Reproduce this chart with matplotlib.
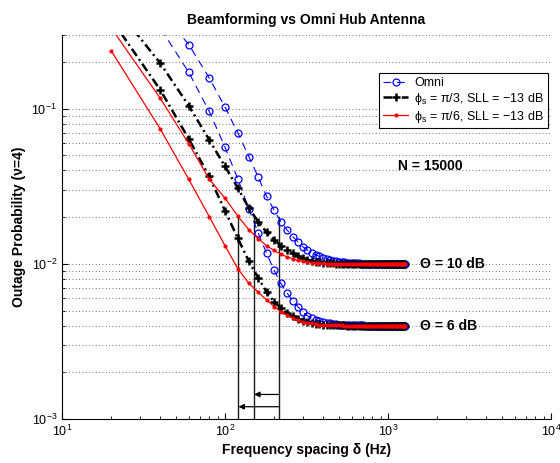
import matplotlib
matplotlib.use("Agg")
import matplotlib.pyplot as plt
from matplotlib.ticker import LogLocator, NullFormatter

plt.rcParams['font.family'] = ['Liberation Sans', 'DejaVu Sans']
plt.rcParams['mathtext.fontset'] = 'custom'
plt.rcParams['mathtext.rm'] = 'Liberation Sans'
plt.rcParams['mathtext.it'] = 'Liberation Sans:italic'
plt.rcParams['mathtext.bf'] = 'Liberation Sans:bold'

# ---------------- data ----------------
delta = [20, 40, 60, 80, 100, 120, 140, 160,
         180, 200, 220, 240, 260, 280, 300, 320,
         340, 360, 380, 400, 420, 440, 460, 480,
         500, 520, 540, 560, 580, 600, 620, 640,
         660, 680, 700, 720, 740, 760, 780, 800,
         820, 840, 860, 880, 900, 920, 940, 960,
         980, 1000, 1020, 1040, 1060, 1080, 1100, 1120,
         1140, 1160, 1180, 1200, 1220, 1240, 1260, 1280]

omni_10 = [0.85, 0.43, 0.259, 0.158, 0.1026, 0.0697, 0.0492, 0.0362,
           0.0273, 0.0222, 0.0187, 0.01655, 0.0150, 0.0139, 0.0129, 0.0123,
           0.0118, 0.01145, 0.01117, 0.01095, 0.01077, 0.01062, 0.0105, 0.0104,
           0.01033, 0.01027, 0.01022, 0.01018, 0.01014, 0.01011, 0.01009, 0.01007,
           0.01006, 0.01005, 0.01004, 0.01003, 0.01003, 0.01002, 0.01002, 0.01001,
           0.01001, 0.01001, 0.01001, 0.0100, 0.0100, 0.0100, 0.0100, 0.0100,
           0.0100, 0.0100, 0.0100, 0.0100, 0.0100, 0.0100, 0.0100, 0.0100,
           0.0100, 0.0100, 0.0100, 0.0100, 0.0100, 0.0100, 0.0100, 0.0100]
omni_6 = [0.76, 0.333, 0.1714, 0.0962, 0.0566, 0.0352, 0.0226, 0.0158,
          0.0117, 0.0091, 0.0075, 0.0065, 0.0058, 0.0053, 0.0049, 0.00463,
          0.00447, 0.00436, 0.00428, 0.00422, 0.00417, 0.00413, 0.0041, 0.00408,
          0.00406, 0.00405, 0.00404, 0.00403, 0.00403, 0.00402, 0.00402, 0.00401,
          0.00401, 0.00401, 0.00401, 0.0040, 0.0040, 0.0040, 0.0040, 0.0040,
          0.0040, 0.0040, 0.0040, 0.0040, 0.0040, 0.0040, 0.0040, 0.0040,
          0.0040, 0.0040, 0.0040, 0.0040, 0.0040, 0.0040, 0.0040, 0.0040,
          0.0040, 0.0040, 0.0040, 0.0040, 0.0040, 0.0040, 0.0040, 0.0040]

bf3_10 = [0.49, 0.197, 0.1045, 0.0631, 0.0425, 0.0308, 0.0229, 0.0187,
          0.0160, 0.0143, 0.0131, 0.0123, 0.0117, 0.01125, 0.0109, 0.01066,
          0.01048, 0.01035, 0.01026, 0.01019, 0.01014, 0.0101, 0.01007, 0.01005,
          0.01004, 0.01003, 0.01002, 0.01002, 0.01001, 0.01001, 0.01001, 0.0100,
          0.0100, 0.0100, 0.0100, 0.0100, 0.0100, 0.0100, 0.0100, 0.0100,
          0.0100, 0.0100, 0.0100, 0.0100, 0.0100, 0.0100, 0.0100, 0.0100,
          0.0100, 0.0100, 0.0100, 0.0100, 0.0100, 0.0100, 0.0100, 0.0100,
          0.0100, 0.0100, 0.0100, 0.0100, 0.0100, 0.0100, 0.0100, 0.0100]
bf3_6 = [0.38, 0.1327, 0.0638, 0.0366, 0.022, 0.0146, 0.0104, 0.0081,
         0.0066, 0.0057, 0.0052, 0.0048, 0.0046, 0.00443, 0.00431, 0.00422,
         0.00416, 0.00412, 0.00408, 0.00406, 0.00404, 0.00403, 0.00402, 0.00402,
         0.00401, 0.00401, 0.00401, 0.0040, 0.0040, 0.0040, 0.0040, 0.0040,
         0.0040, 0.0040, 0.0040, 0.0040, 0.0040, 0.0040, 0.0040, 0.0040,
         0.0040, 0.0040, 0.0040, 0.0040, 0.0040, 0.0040, 0.0040, 0.0040,
         0.0040, 0.0040, 0.0040, 0.0040, 0.0040, 0.0040, 0.0040, 0.0040,
         0.0040, 0.0040, 0.0040, 0.0040, 0.0040, 0.0040, 0.0040, 0.0040]

bf6_10 = [0.333, 0.117, 0.0594, 0.0352, 0.0265, 0.0203, 0.0166, 0.0145,
          0.0131, 0.0122, 0.01155, 0.0111, 0.01078, 0.01055, 0.01039, 0.01027,
          0.01019, 0.01014, 0.0101, 0.01007, 0.01005, 0.01004, 0.01003, 0.01002,
          0.01002, 0.01001, 0.01001, 0.01001, 0.0100, 0.0100, 0.0100, 0.0100,
          0.0100, 0.0100, 0.0100, 0.0100, 0.0100, 0.0100, 0.0100, 0.0100,
          0.0100, 0.0100, 0.0100, 0.0100, 0.0100, 0.0100, 0.0100, 0.0100,
          0.0100, 0.0100, 0.0100, 0.0100, 0.0100, 0.0100, 0.0100, 0.0100,
          0.0100, 0.0100, 0.0100, 0.0100, 0.0100, 0.0100, 0.0100, 0.0100]
bf6_6 = [0.237, 0.0743, 0.035, 0.0202, 0.0131, 0.0093, 0.0075, 0.00656,
         0.00586, 0.00531, 0.00492, 0.00469, 0.00449, 0.00435, 0.00425, 0.00418,
         0.00413, 0.00409, 0.00406, 0.00405, 0.00403, 0.00402, 0.00402, 0.00401,
         0.00401, 0.00401, 0.0040, 0.0040, 0.0040, 0.0040, 0.0040, 0.0040,
         0.0040, 0.0040, 0.0040, 0.0040, 0.0040, 0.0040, 0.0040, 0.0040,
         0.0040, 0.0040, 0.0040, 0.0040, 0.0040, 0.0040, 0.0040, 0.0040,
         0.0040, 0.0040, 0.0040, 0.0040, 0.0040, 0.0040, 0.0040, 0.0040,
         0.0040, 0.0040, 0.0040, 0.0040, 0.0040, 0.0040, 0.0040, 0.0040]

labels = ['Omni',
          r'ϕ$_{\rm s}$ = π/3, SLL = −13 dB',
          r'ϕ$_{\rm s}$ = π/6, SLL = −13 dB']

# annotation markers (delta where upper curves reach P = 0.02)
mark_delta = [121, 151, 213]
mark_top = 0.02
arrow_levels = [0.00144, 0.0012]
arrow_targets = [151, 121]

# ---------------- figure ----------------
fig = plt.figure(figsize=(5.6, 4.63), dpi=100)
ax = fig.add_axes([0.1107, 0.0950, 0.8732, 0.8300])

ax.set_xscale('log')
ax.set_yscale('log')
ax.set_xlim(10, 1e4)
ax.set_ylim(1e-3, 0.3)

# horizontal grid only (major + minor)
ax.yaxis.grid(True, which='both', linestyle=(0, (1, 3)), color='0.25', linewidth=0.6)
ax.xaxis.grid(False, which='both')
ax.set_axisbelow(True)

blue_kw = dict(color='blue', linestyle=(0, (7, 5)), linewidth=0.8, marker='o',
               markersize=5, markerfacecolor='none', markeredgewidth=0.9, markeredgecolor='blue')
black_kw = dict(color='black', linestyle=(0, (3.5, 1.5, 0.8, 1.5)), linewidth=1.8, marker='+',
                markersize=5.5, markeredgewidth=1.8)
red_kw = dict(color='red', linestyle='-', linewidth=0.9, marker='o', markersize=3,
              markeredgewidth=0, markerfacecolor='red')

h1, = ax.plot(delta, omni_10, label=labels[0], **blue_kw)
ax.plot(delta, omni_6, **blue_kw)
h2, = ax.plot(delta, bf3_10, label=labels[1], **black_kw)
ax.plot(delta, bf3_6, **black_kw)
h3, = ax.plot(delta, bf6_10, label=labels[2], **red_kw)
ax.plot(delta, bf6_6, **red_kw)

for xv in mark_delta:
    ax.plot([xv, xv], [1e-3, mark_top], color='0.1', linewidth=1.0, zorder=1.5)

for lvl, tgt in zip(arrow_levels, arrow_targets):
    ax.annotate('', xy=(tgt, lvl), xytext=(mark_delta[-1], lvl),
                arrowprops=dict(arrowstyle='-|>', color='black', lw=0.9,
                                mutation_scale=8, shrinkA=0, shrinkB=0))

ax.text(1150, 0.043, 'N = 15000', fontsize=10, fontweight='bold', ha='left', va='center')
ax.text(1570, 0.0100, 'Θ = 10 dB', fontsize=10, fontweight='bold', ha='left', va='center')
ax.text(1570, 0.0040, 'Θ = 6 dB', fontsize=10, fontweight='bold', ha='left', va='center')

leg = ax.legend(handles=[h1, h2, h3], loc='upper right', bbox_to_anchor=(0.994, 0.900),
                borderaxespad=0, fontsize=9, frameon=True, fancybox=False,
                edgecolor='black', framealpha=1, handlelength=2.0, handletextpad=0.5,
                labelspacing=0.15, borderpad=0.3)
leg.get_frame().set_linewidth(0.8)

ax.spines['top'].set_visible(False)
ax.spines['right'].set_visible(False)
ax.tick_params(which='both', direction='in', labelsize=9)
ax.tick_params(which='major', length=4)
ax.tick_params(which='minor', length=2)
ax.xaxis.set_minor_locator(LogLocator(base=10, subs=range(2, 10), numticks=20))
ax.xaxis.set_minor_formatter(NullFormatter())
ax.yaxis.set_minor_locator(LogLocator(base=10, subs=range(2, 10), numticks=20))
ax.yaxis.set_minor_formatter(NullFormatter())

ax.set_title('Beamforming vs Omni Hub Antenna', fontsize=10, fontweight='bold', pad=8)
ax.set_xlabel('Frequency spacing δ (Hz)', fontsize=10, fontweight='bold', labelpad=3)
ax.set_ylabel('Outage Probability (ν=4)', fontsize=10, fontweight='bold', labelpad=4)

fig.savefig('out.png', dpi=100)
